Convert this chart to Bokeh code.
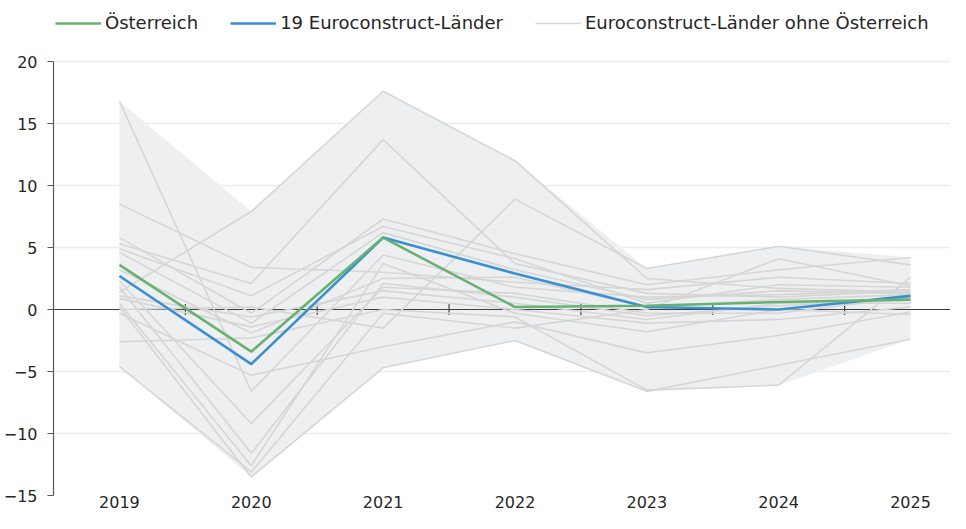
from bokeh.plotting import figure
from bokeh.models import FixedTicker, Legend, LegendItem
from bokeh.embed import file_html
from bokeh.resources import INLINE

# ---------------- data ----------------
years = ["2019", "2020", "2021", "2022", "2023", "2024", "2025"]
austria = [3.6, -3.4, 5.8, 0.2, 0.3, 0.6, 0.8]
ec19 = [2.7, -4.4, 5.8, 2.9, 0.2, 0.0, 1.1]

# 18 Euroconstruct countries without Austria (estimated)
land_a = [1.4, 7.9, 17.6, 12.0, 2.5, 1.7, 1.4]
land_b = [5.3, 2.1, 13.7, 3.7, 1.3, 1.0, 1.5]
land_c = [8.5, 3.4, 3.0, 2.2, 1.6, 2.6, 2.1]
land_d = [16.8, -6.6, 4.4, 1.8, 1.0, 1.2, 1.6]
land_e = [0.0, 0.2, -1.5, 8.9, 3.3, 5.1, 3.6]
land_f = [5.8, -0.3, 7.3, 4.5, 2.0, 3.2, 4.2]
land_g = [4.9, 1.1, 6.7, 4.1, 0.5, 2.0, 1.8]
land_h = [4.6, -1.1, 6.2, 3.2, 0.8, 1.5, 1.3]
land_i = [3.2, -1.9, 2.5, 2.6, 0.2, 0.8, 1.2]
land_j = [2.3, -9.2, 1.8, 1.3, -0.3, -0.3, 1.0]
land_k = [1.8, -11.6, 2.1, 1.0, -0.5, 0.3, 0.8]
land_l = [1.1, -0.6, 1.5, 0.5, -0.8, 0.5, 0.5]
land_m = [0.9, -1.4, 1.0, 0.0, -1.1, -0.8, 0.2]
land_n = [0.5, -12.6, 3.7, -0.3, -1.8, 0.0, -0.4]
land_o = [0.2, -13.5, -4.7, -2.5, -6.6, -4.5, -2.4]
land_p = [-0.3, -5.3, -3.0, -1.0, -3.5, -2.1, -0.2]
land_q = [-2.6, -2.3, 0.0, -0.6, -6.5, -6.1, 2.6]
land_r = [-4.6, -13.1, -0.3, -1.5, 0.0, 4.1, 1.9]

others = [land_a, land_b, land_c, land_d, land_e, land_f, land_g, land_h, land_i,
          land_j, land_k, land_l, land_m, land_n, land_o, land_p, land_q, land_r]

y_ticks = [-15, -10, -5, 0, 5, 10, 15, 20]

FONT = "DejaVu Sans"
GREEN = "#67b273"
BLUE = "#3a8fd0"
GREY_LINE = "#d6d6d6"
BAND = "#eeeff1"

xs = list(range(len(years)))
upper = [max(col) for col in zip(*others)]
lower = [min(col) for col in zip(*others)]

x_start, x_end = -0.5, 6.303
p = figure(width=950, height=513, output_backend="svg", toolbar_location=None,
           x_range=(x_start, x_end), y_range=(-15, 24.92),
           min_border_left=52, min_border_right=0, min_border_top=0,
           min_border_bottom=18)
p.outline_line_color = None
p.background_fill_color = "white"

# band (min..max of the other countries)
p.varea(x=xs, y1=lower, y2=upper, fill_color=BAND)

# zero line with category separator ticks
p.segment(x0=[x_start], x1=[x_end], y0=[0], y1=[0], line_color="#404040", line_width=1.2)
bounds = [i + 0.5 for i in xs[:-1]]
p.segment(x0=bounds, x1=bounds, y0=[-0.45] * len(bounds), y1=[0.45] * len(bounds),
          line_color="#404040", line_width=1.2)

grey_renderers = []
for s in others:
    r = p.line(xs, s, line_color=GREY_LINE, line_width=1.6)
    grey_renderers.append(r)

r_ec = p.line(xs, ec19, line_color=BLUE, line_width=2.6)
r_at = p.line(xs, austria, line_color=GREEN, line_width=2.6)

# axes
p.xaxis.ticker = FixedTicker(ticks=xs)
p.xaxis.major_label_overrides = {i: y for i, y in enumerate(years)}
p.xaxis.axis_line_color = None
p.xaxis.major_tick_line_color = None
p.xaxis.minor_tick_line_color = None
p.xaxis.major_tick_out = 0
p.xaxis.major_tick_in = 0
p.xaxis.major_label_standoff = 0
p.xaxis.major_label_text_font = FONT
p.xaxis.major_label_text_font_size = "16px"
p.xaxis.major_label_text_color = "#262626"

p.yaxis.ticker = FixedTicker(ticks=y_ticks)
p.yaxis.bounds = (y_ticks[0], y_ticks[-1])
p.yaxis.axis_line_color = "#595959"
p.yaxis.axis_line_width = 1.2
p.yaxis.major_tick_line_color = "#595959"
p.yaxis.major_tick_out = 6
p.yaxis.major_tick_in = 0
p.yaxis.minor_tick_line_color = None
p.yaxis.major_label_standoff = 10
p.yaxis.major_label_text_font = FONT
p.yaxis.major_label_text_font_size = "16px"
p.yaxis.major_label_text_color = "#262626"

p.xgrid.grid_line_color = None
p.ygrid.ticker = FixedTicker(ticks=y_ticks)
p.ygrid.grid_line_color = "#ececec"
p.ygrid.grid_line_width = 1.5

legend = Legend(items=[
    LegendItem(label="Österreich", renderers=[r_at]),
    LegendItem(label="19 Euroconstruct-Länder", renderers=[r_ec]),
    LegendItem(label="Euroconstruct-Länder ohne Österreich", renderers=[grey_renderers[0]]),
], orientation="horizontal", location=(2, 462))
legend.margin = 0
legend.padding = 0
legend.spacing = 32
legend.glyph_width = 46
legend.glyph_height = 20
legend.label_standoff = 4
legend.label_text_font = FONT
legend.label_text_font_size = "18px"
legend.label_text_color = "#262626"
legend.border_line_color = None
legend.background_fill_alpha = 0
p.add_layout(legend)

open("out.html", "w").write(file_html(p, INLINE))
